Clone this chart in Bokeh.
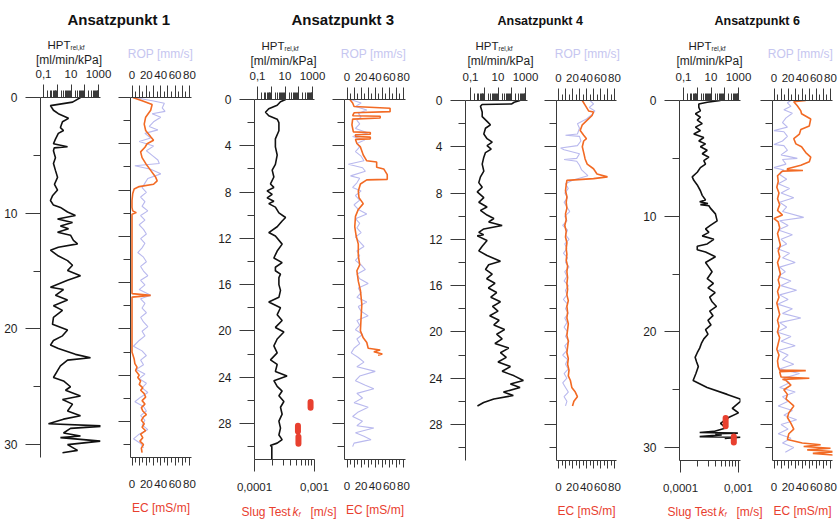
from bokeh.plotting import figure
from bokeh.models import Range1d, LinearAxis, LogAxis, LogScale, FixedTicker, Label, GridBox
from bokeh.embed import file_html
from bokeh.resources import INLINE

# ---------------- data ----------------
titles = ["Ansatzpunkt 1", "Ansatzpunkt 3", "Ansatzpunkt 4", "Ansatzpunkt 6"]
hpt_ticks = [0.1, 1, 10, 100, 1000]
hpt_tick_labels = ["0,1", "", "10", "", "1000"]
rop_ticks = [0, 10, 20, 30, 40, 50, 60, 70, 80]
rop_tick_labels = ["0", "", "20", "", "40", "", "60", "", "80"]
slug_ticks = [0.0001, 0.001]
slug_tick_labels = ["0,0001", "0,001"]

# (depth m, HPT rel,kf ml/min/kPa)
hpt1 = [(0.0, 49), (0.4, 13), (0.7, 0.32), (1.1, 0.53), (1.4, 1.2), (1.8, 6.6), (2.1, 2.4), (2.6, 1.7),
        (2.85, 2.85), (3.1, 1.2), (3.6, 0.74), (4.0, 0.53), (4.25, 5.6), (4.35, 0.6), (4.6, 0.53),
        (5.2, 0.74), (5.7, 0.53), (6.3, 0.74), (6.9, 1.05), (7.5, 0.63), (8.0, 1.05), (8.5, 0.45),
        (8.9, 0.32), (9.3, 0.53), (9.5, 1.7), (9.9, 5.6), (10.2, 21), (10.5, 1.05), (10.8, 12.9),
        (11.1, 1.7), (11.35, 6.6), (11.65, 1.05), (11.9, 9.2), (12.35, 15), (12.65, 30), (12.95, 1.2),
        (13.2, 0.32), (13.65, 1.05), (14.1, 5.6), (14.5, 12.9), (14.95, 5.6), (15.4, 49), (15.8, 5.6),
        (16.4, 0.32), (16.6, 2.85), (17.1, 0.74), (17.5, 5.6), (18.0, 0.53), (18.4, 2.4), (19.0, 0.53),
        (19.6, 0.45), (20.1, 5.6), (20.6, 2.4), (21.0, 0.53), (21.4, 0.32), (21.7, 1.2), (22.2, 21),
        (22.5, 262), (22.7, 5.6), (23.2, 1.7), (23.6, 1.05), (24.2, 0.53), (24.5, 2.85), (25.0, 9.2),
        (25.3, 4.0), (25.8, 49), (26.1, 2.4), (26.5, 12.9), (27.1, 5.6), (27.5, 49), (27.8, 2.85),
        (28.2, 0.23), (28.4, 3200), (28.6, 9.2), (29.0, 2.85), (29.25, 49), (29.4, 1.7), (29.7, 1400),
        (30.0, 5.6), (30.5, 30), (30.7, 2.4)]
# (depth m, EC mS/m)
ec1 = [(0.0, 1), (0.3, 15), (0.6, 28), (1.1, 26), (1.7, 19), (2.3, 17), (2.85, 19), (3.4, 26), (3.7, 30),
       (4.0, 21), (4.3, 18), (4.7, 12), (5.2, 14), (5.7, 19), (6.3, 26), (6.9, 33), (7.2, 35), (7.5, 30),
       (7.7, 10), (7.9, 3), (8.3, 1), (8.9, 0), (9.5, 0), (9.8, 1), (9.95, 6), (10.1, 0), (16.95, 0),
       (17.1, 26), (17.25, 0), (22.0, 0), (22.6, 3), (23.0, 4), (23.3, 7), (23.6, 5), (24.0, 10), (24.2, 8),
       (24.5, 12), (24.8, 10), (25.1, 15), (25.3, 12), (25.6, 17), (25.9, 19), (26.2, 14), (26.5, 18),
       (26.8, 13), (27.1, 15), (27.4, 20), (27.6, 16), (27.9, 13), (28.2, 17), (28.5, 14), (28.8, 19),
       (29.1, 12), (29.4, 15), (29.7, 11), (30.0, 16), (30.3, 13), (30.7, 14)]
# (depth m, ROP mm/s)
rop1 = [(0.0, 3), (0.3, 30), (0.5, 45), (0.9, 42), (1.2, 46), (1.4, 28), (1.7, 40), (2.1, 30), (2.5, 24),
        (2.8, 36), (3.1, 18), (3.5, 26), (3.8, 10), (4.2, 30), (4.6, 20), (5.0, 28), (5.4, 36), (5.7, 38),
        (5.9, 4), (6.2, 26), (6.6, 40), (7.0, 22), (7.4, 18), (7.8, 14), (8.2, 20), (8.6, 12), (9.0, 18),
        (9.4, 14), (9.8, 22), (10.2, 12), (10.6, 18), (11.0, 10), (11.4, 16), (11.8, 20), (12.2, 12),
        (12.6, 18), (13.0, 14), (13.4, 8), (13.8, 16), (14.2, 20), (14.6, 12), (15.0, 16), (15.4, 22),
        (15.8, 12), (16.2, 18), (16.6, 10), (17.1, 26), (17.4, 12), (17.8, 18), (18.2, 14), (18.6, 20),
        (19.0, 12), (19.4, 16), (19.8, 22), (20.2, 14), (20.6, 18), (21.0, 10), (21.5, 2), (21.9, 14),
        (22.3, 20), (22.7, 12), (23.1, 16), (23.5, 6), (23.9, 18), (24.3, 10), (24.7, 20), (25.1, 14),
        (25.5, 22), (25.9, 12), (26.3, 4), (26.7, 16), (27.1, 20), (27.5, 12), (27.9, 18), (28.3, 14),
        (28.7, 22), (29.1, 10), (29.5, 2), (29.9, 12), (30.3, 16)]

hpt3 = [(0.0, 11), (0.2, 4.7), (0.5, 2.7), (0.8, 0.66), (1.1, 0.38), (1.4, 0.66), (1.7, 2.7), (2.0, 3.6),
        (2.7, 3.6), (3.4, 2.0), (4.1, 2.0), (4.8, 2.7), (5.6, 2.0), (6.1, 1.17), (6.7, 1.55), (7.3, 0.88),
        (7.6, 1.55), (7.9, 0.5), (8.2, 1.17), (8.5, 0.5), (8.8, 1.55), (9.0, 0.66), (9.3, 2.0), (9.8, 3.6),
        (10.2, 11), (10.5, 6.2), (11.0, 2.7), (11.5, 0.66), (11.8, 2.0), (12.5, 6.2), (13.1, 2.7),
        (13.7, 1.55), (14.1, 6.2), (14.5, 2.0), (14.8, 2.0), (15.1, 4.7), (15.4, 3.6), (16.0, 3.6),
        (16.5, 4.7), (17.1, 3.6), (17.5, 0.66), (18.0, 4.7), (18.6, 2.7), (19.1, 6.2), (19.7, 2.0),
        (20.1, 8.3), (20.7, 2.7), (21.3, 1.55), (21.9, 2.7), (22.5, 0.88), (22.9, 2.7), (23.5, 2.0),
        (23.9, 14), (24.3, 1.55), (24.8, 2.7), (25.2, 6.2), (25.6, 3.6), (26.1, 8.3), (26.6, 4.7),
        (27.2, 6.2), (27.8, 3.6), (28.4, 4.7), (29.0, 3.6), (29.4, 6.2), (29.7, 2.7), (29.9, 0.85),
        (30.0, 1.1), (31.1, 1.1)]
ec3 = [(0.0, 4), (0.3, 8), (0.6, 10), (0.75, 61), (1.05, 61), (1.15, 10), (1.4, 8), (1.45, 47), (1.6, 47),
       (1.7, 8), (2.2, 7), (2.8, 9), (2.85, 33), (3.0, 33), (3.05, 12), (3.2, 12), (3.25, 33), (3.4, 33),
       (3.45, 12), (3.8, 14), (4.1, 19), (4.8, 23), (5.3, 28), (5.4, 42), (5.85, 42), (6.0, 52), (6.5, 57),
       (6.9, 57), (6.95, 28), (7.3, 19), (7.9, 16), (8.5, 17), (9.0, 23), (9.5, 16), (10.1, 12), (11.0, 11),
       (11.8, 13), (12.5, 16), (13.5, 16), (14.3, 18), (14.8, 14), (15.7, 16), (16.5, 19), (17.7, 21),
       (18.8, 20), (20.0, 19), (20.6, 23), (21.0, 28), (21.5, 30), (21.65, 47), (21.8, 38), (22.0, 50),
       (22.1, 44)]
rop3 = [(0.0, 5), (0.3, 20), (0.6, 12), (0.9, 28), (1.2, 16), (1.5, 20), (1.8, 14), (2.1, 18), (2.5, 12),
        (2.9, 30), (3.2, 8), (3.5, 25), (3.8, 14), (4.1, 18), (4.5, 12), (4.9, 20), (5.3, 24), (5.6, 2),
        (5.9, 22), (6.2, 26), (6.6, 5), (6.8, 18), (7.2, 14), (7.6, 8), (7.9, 20), (8.3, 12), (8.7, 18),
        (9.1, 10), (9.5, 16), (9.9, 28), (10.3, 12), (10.7, 18), (11.1, 14), (11.5, 20), (11.9, 12),
        (12.3, 18), (12.7, 24), (13.1, 14), (13.5, 18), (13.9, 12), (14.3, 20), (14.7, 26), (15.1, 14),
        (15.5, 18), (15.9, 30), (16.3, 16), (16.7, 20), (17.1, 14), (17.5, 28), (17.9, 16), (18.3, 20),
        (18.7, 30), (19.1, 14), (19.5, 18), (19.9, 12), (20.3, 22), (20.7, 14), (21.1, 18), (21.5, 10),
        (21.9, 6), (22.3, 16), (22.7, 24), (23.1, 14), (23.5, 40), (23.9, 18), (24.3, 12), (24.7, 26),
        (25.0, 38), (25.4, 14), (25.8, 22), (26.2, 10), (26.6, 30), (27.0, 16), (27.4, 8), (27.8, 22),
        (28.2, 14), (28.4, 38), (28.8, 12), (29.1, 24), (29.4, 34), (29.7, 10), (30.0, 8)]
# (kf m/s, top depth, bottom depth)
slug3 = [(0.00086, 26.15, 26.65), (0.00053, 28.2, 28.7), (0.00054, 29.15, 29.75)]

hpt4 = [(0.0, 400), (0.15, 150), (0.3, 100), (0.35, 0.7), (0.5, 0.53), (1.0, 0.71), (1.4, 0.71), (1.8, 1.6),
        (2.1, 2.8), (2.4, 1.23), (2.9, 0.93), (3.3, 1.6), (3.6, 3.8), (3.9, 1.6), (4.2, 3.2), (4.5, 1.23),
        (4.9, 0.93), (5.5, 0.71), (6.1, 0.93), (6.6, 0.53), (7.1, 0.4), (7.5, 0.71), (7.9, 0.31), (8.4, 0.93),
        (8.8, 0.4), (9.2, 1.6), (9.5, 0.53), (9.9, 1.6), (10.2, 5), (10.5, 2.1), (10.8, 20), (11.1, 0.93),
        (11.4, 0.4), (11.6, 0.9), (11.7, 0.31), (12.1, 1.6), (12.6, 0.71), (13.0, 0.4), (13.4, 1.6),
        (13.9, 15), (14.2, 2.1), (14.6, 1.23), (15.0, 3.8), (15.4, 1.5), (15.8, 6), (16.2, 2), (16.6, 8),
        (17.0, 3), (17.4, 15), (17.8, 4), (18.2, 10), (18.6, 2.5), (19.0, 12), (19.4, 5), (19.8, 30),
        (20.2, 8), (20.6, 20), (21.0, 6), (21.4, 60), (21.8, 15), (22.2, 40), (22.6, 10), (23.0, 80),
        (23.4, 20), (23.8, 150), (24.2, 700), (24.5, 80), (24.8, 400), (25.2, 25), (25.5, 130), (25.8, 5),
        (26.1, 0.9), (26.4, 0.32)]
ec4 = [(0.0, 34), (0.4, 38), (0.9, 43), (1.0, 50), (1.3, 48), (1.7, 41), (2.1, 34), (2.6, 31), (3.0, 36),
       (3.3, 40), (3.5, 36), (4.0, 34), (4.5, 36), (5.05, 38), (5.5, 41), (5.9, 50), (6.35, 55), (6.6, 70),
       (6.75, 50), (6.9, 12), (7.3, 11), (7.8, 10), (8.3, 12), (8.8, 11), (9.3, 12), (9.8, 10), (10.3, 11),
       (10.8, 9), (11.3, 11), (11.8, 10), (12.3, 12), (12.8, 11), (13.3, 12), (13.8, 11), (14.3, 13),
       (14.8, 12), (15.3, 13), (15.8, 12), (16.3, 13), (16.8, 12), (17.3, 14), (17.8, 12), (18.3, 13),
       (18.8, 12), (19.3, 14), (19.8, 13), (20.3, 12), (20.8, 14), (21.3, 13), (21.8, 12), (22.3, 14),
       (22.8, 13), (23.3, 15), (23.8, 14), (24.2, 17), (24.8, 19), (25.2, 24), (25.6, 27), (26.0, 22),
       (26.4, 20)]
rop4 = [(0.0, 45), (0.3, 50), (0.6, 44), (0.9, 52), (1.2, 48), (1.6, 40), (2.0, 27), (2.4, 30), (2.9, 27),
        (3.0, 10), (3.1, 30), (3.5, 32), (3.9, 27), (4.1, 3), (4.25, 8), (4.6, 30), (5.0, 26), (5.1, 8),
        (5.25, 26), (5.6, 30), (6.0, 33), (6.5, 42), (6.9, 20), (7.2, 10), (7.6, 14), (8.0, 9), (8.4, 13),
        (8.8, 8), (9.2, 12), (9.6, 16), (10.0, 9), (10.4, 12), (10.8, 6), (11.2, 13), (11.6, 10), (12.0, 15),
        (12.4, 9), (12.8, 12), (13.2, 7), (13.6, 13), (14.0, 10), (14.4, 15), (14.8, 9), (15.2, 12),
        (15.6, 8), (16.0, 14), (16.4, 10), (16.8, 12), (17.2, 7), (17.6, 13), (18.0, 10), (18.4, 14),
        (18.8, 9), (19.2, 12), (19.6, 8), (20.0, 13), (20.4, 10), (20.8, 15), (21.2, 9), (21.6, 12),
        (22.0, 6), (22.4, 13), (22.8, 10), (23.2, 14), (23.6, 8), (24.0, 12), (24.4, 6), (24.8, 10),
        (25.2, 14), (25.6, 8), (26.0, 12), (26.4, 10)]

hpt6 = [(0.0, 49), (0.15, 5.3), (0.3, 1.3), (0.6, 1.3), (0.9, 1.7), (1.15, 0.74), (1.45, 1.7), (1.7, 1.0),
        (2.0, 2.3), (2.3, 0.74), (2.6, 1.7), (2.9, 0.56), (3.2, 3.0), (3.5, 1.3), (3.75, 4.0), (4.0, 1.7),
        (4.3, 5.3), (4.6, 2.3), (4.9, 7), (5.2, 3.0), (5.5, 4.0), (5.8, 1.7), (6.2, 1.0), (6.6, 0.43),
        (6.9, 0.56), (7.3, 1.0), (7.8, 1.7), (8.2, 2.3), (8.6, 4.0), (8.75, 1.5), (8.9, 6), (9.0, 1.7),
        (9.1, 7), (9.3, 9), (9.8, 21), (10.4, 28), (10.8, 9), (11.1, 4), (11.4, 7), (11.7, 2.3), (12.0, 16),
        (12.4, 5.3), (12.6, 1.0), (12.9, 1.0), (13.1, 4), (13.5, 21), (14.0, 4), (14.4, 7), (14.8, 12),
        (15.4, 5.3), (15.8, 15), (16.2, 6), (16.6, 20), (17.0, 8), (17.4, 12), (17.8, 25), (18.2, 8),
        (18.6, 14), (19.0, 6), (19.4, 10), (19.8, 4), (20.2, 6), (20.6, 3), (21.0, 2), (21.4, 1.5),
        (21.8, 1.0), (22.2, 0.7), (22.6, 0.9), (23.0, 1.2), (23.6, 0.8), (24.2, 0.5), (24.8, 5.2),
        (25.4, 150), (25.8, 1300), (26.0, 1400), (26.6, 350), (27.0, 1000), (27.4, 190), (27.9, 49),
        (28.3, 120), (28.6, 16), (28.7, 1.5), (28.75, 900), (28.8, 20), (28.9, 60), (29.05, 1.5),
        (29.1, 1400), (29.2, 100)]
ec6 = [(0.0, 45), (0.1, 28), (0.45, 33), (0.9, 38), (1.15, 39), (1.6, 52), (2.2, 50), (2.5, 38), (2.9, 36),
       (3.3, 28), (3.75, 31), (4.0, 39), (4.5, 45), (4.9, 52), (5.3, 50), (5.6, 38), (5.9, 19), (6.0, 19),
       (6.05, 41), (6.1, 12), (6.2, 10), (6.5, 5), (7.0, 6), (7.5, 4), (8.0, 7), (8.5, 5), (9.0, 8),
       (9.5, 5), (9.9, 12), (10.2, 0), (10.5, 6), (11.0, 8), (11.5, 5), (12.0, 7), (12.5, 9), (13.0, 6),
       (13.5, 8), (14.0, 5), (14.5, 7), (15.0, 9), (15.5, 6), (16.0, 8), (16.5, 5), (17.0, 7), (17.5, 4),
       (18.0, 6), (18.5, 8), (19.0, 5), (19.5, 7), (20.0, 5), (20.5, 8), (21.0, 6), (21.5, 4), (22.0, 7),
       (22.5, 5), (23.0, 6), (23.3, 8), (23.35, 45), (23.45, 8), (23.9, 10), (24.0, 50), (24.1, 12),
       (24.2, 17), (24.6, 24), (25.0, 14), (25.4, 19), (25.8, 17), (26.4, 28), (27.0, 21), (27.4, 19),
       (27.9, 24), (28.4, 28), (28.8, 21), (29.3, 19), (29.6, 40), (29.75, 66), (29.9, 42), (30.05, 80),
       (30.2, 47), (30.35, 87), (30.5, 55), (30.65, 85)]
rop6 = [(0.0, 24), (0.2, 19), (0.5, 24), (0.8, 14), (1.1, 26), (1.5, 17), (1.9, 12), (2.3, 19), (2.6, 0),
        (2.7, 14), (3.1, 19), (3.5, 12), (3.8, 0), (3.9, 14), (4.3, 19), (4.7, 10), (5.0, 33), (5.1, 12),
        (5.5, 17), (5.8, 0), (6.0, 14), (6.4, 8), (6.8, 18), (7.2, 6), (7.6, 22), (8.0, 10), (8.4, 28),
        (8.8, 8), (9.2, 18), (9.6, 12), (10.1, 42), (10.4, 8), (10.8, 20), (11.2, 6), (11.6, 26), (12.0, 10),
        (12.4, 18), (12.8, 4), (13.2, 22), (13.6, 12), (14.0, 30), (14.4, 8), (14.8, 16), (15.2, 6),
        (15.6, 24), (16.0, 10), (16.4, 32), (16.8, 8), (17.2, 20), (17.6, 5), (18.0, 26), (18.4, 12),
        (18.8, 38), (19.2, 8), (19.6, 18), (20.0, 4), (20.4, 24), (20.8, 10), (21.2, 30), (21.6, 6),
        (22.0, 20), (22.4, 12), (22.8, 28), (23.2, 8), (23.6, 36), (24.0, 14), (24.4, 22), (24.8, 8),
        (25.2, 30), (25.6, 12), (26.0, 20), (26.4, 6), (26.8, 26), (27.2, 14), (27.6, 32), (28.0, 10),
        (28.4, 20), (28.8, 6), (29.2, 24), (29.6, 12), (30.0, 28), (30.4, 16)]
slug6 = [(0.0006, 27.45, 28.15), (0.00083, 29.05, 29.55)]

# ---------------- layout constants (pixels) ----------------
W, H = 838, 521
FONT = "Liberation Sans"
AX = "#3a3a3a"
TXT = "#1e1e1e"
BLACK = "#111111"
ORANGE = "#f26a24"
LAVENDER = "#b9b9ee"
RED = "#e8402f"
ROPTXT = "#c6c6f0"
PX_PER_M = 11.57
FRAME_H = 360
DEPTH_END = FRAME_H / PX_PER_M
DEC = 13.75

panels = [
    dict(title=titles[0], hpt=hpt1, ec=ec1, rop=rop1, slug=None, top=97,
         hpt_px=(40, 43, 98, 100), rop_px=(130, 131.5, 189, 191), slug_px=None,
         dmaj=[0, 10, 20, 30], dmin=[5, 15, 25], title_xy=(67, 19), title_size=15,
         hpt_xy=(47, 44), mlmin_x=68.5, rop_x=160),
    dict(title=titles[1], hpt=hpt3, ec=ec3, rop=rop3, slug=slug3, top=99,
         hpt_px=(254, 257, 312, 314), rop_px=(344, 346.5, 403, 405), slug_px=(254, 314),
         dmaj=[0, 4, 8, 12, 16, 20, 24, 28], dmin=[2, 6, 10, 14, 18, 22, 26, 30], title_xy=(291, 19),
         title_size=15, hpt_xy=(261, 45), mlmin_x=283, rop_x=373, slug_x=241),
    dict(title=titles[2], hpt=hpt4, ec=ec4, rop=rop4, slug=None, top=100,
         hpt_px=(465, 470, 525, 527), rop_px=(556, 558, 614, 616), slug_px=None,
         dmaj=[0, 4, 8, 12, 16, 20, 24, 28], dmin=[2, 6, 10, 14, 18, 22, 26, 30], title_xy=(497, 20),
         title_size=12.5, hpt_xy=(475, 45), mlmin_x=500, rop_x=587),
    dict(title=titles[3], hpt=hpt6, ec=ec6, rop=rop6, slug=slug6, top=100,
         hpt_px=(679, 683, 738, 740), rop_px=(772, 773.5, 830, 832), slug_px=(680, 738),
         dmaj=[0, 10, 20, 30], dmin=[5, 15, 25], title_xy=(714, 20), title_size=12.5,
         hpt_xy=(688, 45), mlmin_x=709, rop_x=800, slug_x=667),
]


def base_fig(left, right, top, xr, xtype):
    bottom = top + FRAME_H
    p = figure(width=W, height=H, x_range=xr, y_range=Range1d(DEPTH_END, 0),
               x_axis_type=xtype, x_axis_location="above",
               output_backend="svg", toolbar_location=None,
               min_border_left=int(left), min_border_right=int(W - right),
               min_border_top=int(top), min_border_bottom=int(H - bottom))
    p.frame_align = False
    p.background_fill_color = None
    p.border_fill_color = None
    p.outline_line_color = None
    p.grid.visible = False
    return p


def style_axis(ax, mo, mi, standoff, size="11.5px"):
    ax.axis_line_color = AX
    ax.major_tick_line_color = AX
    ax.minor_tick_line_color = AX
    ax.major_tick_in = 0
    ax.minor_tick_in = 0
    ax.major_tick_out = mo
    ax.minor_tick_out = mi
    ax.major_label_text_font = FONT
    ax.major_label_text_font_size = size
    ax.major_label_text_color = TXT
    ax.major_label_standoff = standoff


# overlay figure for free texts, its frame is the whole page (x: px from left, y: px from top)
ov = figure(width=W, height=H, x_range=Range1d(0, W), y_range=Range1d(H, 0),
            output_backend="svg", toolbar_location=None, min_border=0,
            x_axis_location=None, y_axis_location=None)
ov.frame_align = False
ov.background_fill_color = None
ov.border_fill_color = None
ov.outline_line_color = None
ov.grid.visible = False


def text(px, py, s, size, color=TXT, style="normal", align="left"):
    ov.add_layout(Label(x=px, y=py, text=s, text_font=FONT, text_font_size=f"{size}px",
                        text_color=color, text_font_style=style, text_align=align,
                        text_baseline="alphabetic"))


figs = []
for pn in panels:
    # ---------- HPT track ----------
    l, x01, x1000, r = pn["hpt_px"]
    lo = 10 ** (-1 - (x01 - l) / DEC)
    hi = 10 ** (3 + (r - x1000) / DEC)
    p = base_fig(l, r, pn["top"], Range1d(lo, hi), "log")
    top_ax = p.above[0]
    top_ax.ticker = FixedTicker(ticks=hpt_ticks,
                                minor_ticks=[m * 10.0 ** e for e in range(-1, 3) for m in range(2, 10)])
    top_ax.major_label_overrides = dict(zip(hpt_ticks, hpt_tick_labels))
    style_axis(top_ax, 13, 7, 7)
    ya = p.left[0]
    ya.ticker = FixedTicker(ticks=pn["dmaj"], minor_ticks=pn["dmin"])
    style_axis(ya, 15, 7, 8, "12px")

    d = [a for a, b in pn["hpt"]]
    v = [b for a, b in pn["hpt"]]
    p.line(v, d, line_color=BLACK, line_width=1.6)

    if pn["slug"] is not None:
        s0, s1 = pn["slug_px"]
        slo = 10 ** (-4 - (s0 - l) / (s1 - s0))
        shi = 10 ** (-3 + (r - s1) / (s1 - s0))
        p.extra_x_ranges = {"slug": Range1d(slo, shi)}
        p.extra_x_scales = {"slug": LogScale()}
        sax = LogAxis(x_range_name="slug",
                      ticker=FixedTicker(ticks=slug_ticks, minor_ticks=[m * 1e-4 for m in range(2, 10)]),
                      major_label_overrides=dict(zip(slug_ticks, slug_tick_labels)))
        style_axis(sax, 12, 6, 11)
        p.add_layout(sax, "below")
        kf = [a for a, b, c in pn["slug"]]
        t0 = [b for a, b, c in pn["slug"]]
        t1 = [c for a, b, c in pn["slug"]]
        p.segment(x0=kf, y0=t0, x1=kf, y1=t1, x_range_name="slug", line_color=RED,
                  line_width=6, line_cap="round")
        sx = pn["slug_x"]
        text(sx, 511, "Slug Test", 12, RED)
        text(sx + 51, 511, "k", 12, RED, "italic")
        text(sx + 57, 513.5, "f", 7, RED, "italic")
        text(sx + 69, 511, "[m/s]", 12, RED)

    tx, ty = pn["title_xy"]
    text(tx, ty, pn["title"], pn["title_size"], "#111111", "bold")
    hx, hy = pn["hpt_xy"]
    text(hx, hy, "HPT", 11.5)
    text(hx + 23, hy + 2.5, "rel,kf", 6.5)
    text(pn["mlmin_x"], hy + 15, "[ml/min/kPa]", 12, align="center")
    text(pn["rop_x"], 53, "ROP [mm/s]", 12, ROPTXT, align="center")
    figs.append(p)

    # ---------- ROP / EC track ----------
    l, x0, x80, r = pn["rop_px"]
    s = (x80 - x0) / 80.0
    q = base_fig(l, r, pn["top"], Range1d(-(x0 - l) / s, 80 + (r - x80) / s), "linear")
    tq = q.above[0]
    tq.ticker = FixedTicker(ticks=rop_ticks, minor_ticks=[5, 15, 25, 35, 45, 55, 65, 75])
    tq.major_label_overrides = dict(zip(rop_ticks, rop_tick_labels))
    style_axis(tq, 12, 6, 7)
    bq = LinearAxis(ticker=FixedTicker(ticks=rop_ticks, minor_ticks=[5, 15, 25, 35, 45, 55, 65, 75]),
                    major_label_overrides=dict(zip(rop_ticks, rop_tick_labels)))
    style_axis(bq, 8, 5, 14)
    bq.axis_label = "EC [mS/m]"
    bq.axis_label_text_font = FONT
    bq.axis_label_text_font_size = "12px"
    bq.axis_label_text_color = RED
    bq.axis_label_text_font_style = "normal"
    bq.axis_label_standoff = 10
    q.add_layout(bq, "below")
    yq = q.left[0]
    ymaj = [0, 4, 8, 12, 16, 20, 24, 28]
    yq.ticker = FixedTicker(ticks=ymaj, minor_ticks=[2, 6, 10, 14, 18, 22, 26, 30])
    yq.major_label_overrides = {t: "" for t in ymaj}
    style_axis(yq, 12, 7, 0)

    d = [a for a, b in pn["rop"]]
    v = [b for a, b in pn["rop"]]
    q.line(v, d, line_color=LAVENDER, line_width=1.1)
    d = [a for a, b in pn["ec"]]
    v = [b for a, b in pn["ec"]]
    q.line(v, d, line_color=ORANGE, line_width=1.6)
    figs.append(q)

figs.append(ov)
grid = GridBox(children=[(f, 0, 0) for f in figs])
open("out.html", "w").write(file_html(grid, INLINE, title="Ansatzpunkte"))
